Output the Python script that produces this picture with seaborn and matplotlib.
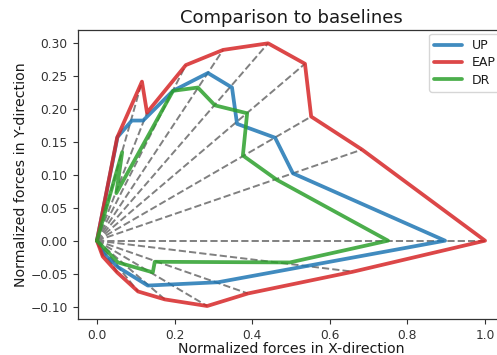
import numpy as np
import pandas as pd
import matplotlib
matplotlib.use("Agg")
import matplotlib.pyplot as plt
import seaborn as sns

# --- data ---
up_x = [0.0, 0.053, 0.090, 0.119, 0.196, 0.286, 0.348, 0.361, 0.459, 0.505, 0.897, 0.312, 0.131, 0.054, 0.018, 0.0]
up_y = [0.0, 0.157, 0.182, 0.182, 0.227, 0.254, 0.232, 0.177, 0.156, 0.102, 0.0, -0.063, -0.068, -0.040, -0.020, 0.0]

eap_x = [0.0, 0.052, 0.116, 0.129, 0.229, 0.325, 0.441, 0.536, 0.552, 0.683, 1.0, 0.66, 0.389, 0.284, 0.175, 0.106, 0.052, 0.015, 0.0]
eap_y = [0.0, 0.156, 0.241, 0.194, 0.266, 0.289, 0.299, 0.268, 0.188, 0.138, 0.0, -0.047, -0.080, -0.099, -0.089, -0.077, -0.048, -0.024, 0.0]

dr_x = [0.0, 0.065, 0.050, 0.196, 0.260, 0.304, 0.387, 0.376, 0.464, 0.75, 0.497, 0.149, 0.144, 0.054, 0.0]
dr_y = [0.0, 0.134, 0.072, 0.227, 0.232, 0.205, 0.193, 0.129, 0.092, 0.0, -0.033, -0.032, -0.048, -0.033, 0.0]

series_names = ["UP", "EAP", "DR"]
title = "Comparison to baselines"
xlabel = "Normalized forces in X-direction"
ylabel = "Normalized forces in Y-direction"

sns.set_style("ticks")
plt.rcParams['font.family'] = ['DejaVu Sans']
plt.rcParams.update({
    "axes.edgecolor": "0.2",
    "axes.linewidth": 0.9,
    "xtick.major.size": 3.5,
    "ytick.major.size": 3.5,
    "xtick.major.width": 0.8,
    "ytick.major.width": 0.8,
    "xtick.major.pad": 3.5,
    "ytick.major.pad": 3.5,
    "text.color": "0.1",
    "axes.labelcolor": "0.1",
    "xtick.color": "0.2",
    "ytick.color": "0.2",
})

fig, ax = plt.subplots(figsize=(4.97, 3.55), dpi=100)
fig.subplots_adjust(left=0.156, right=1.015, top=0.915, bottom=0.101)

# dashed rays from origin to every EAP vertex
rays = []
for i, (x, y) in enumerate(zip(eap_x[1:-1], eap_y[1:-1])):
    rays.append({"ray": i, "order": 0, "x": 0.0, "y": 0.0})
    rays.append({"ray": i, "order": 1, "x": x, "y": y})
rays_df = pd.DataFrame(rays)
sns.lineplot(data=rays_df, x="x", y="y", units="ray", estimator=None, sort=False,
             color="0.5", linestyle="--", linewidth=1.4, ax=ax, legend=False)

colors = {"UP": "#1f77b4", "EAP": "#d62728", "DR": "#2ca02c"}
data = {"UP": (up_x, up_y), "EAP": (eap_x, eap_y), "DR": (dr_x, dr_y)}
for name in series_names:
    xs, ys = data[name]
    df = pd.DataFrame({"x": xs, "y": ys})
    sns.lineplot(data=df, x="x", y="y", sort=False, estimator=None, color=colors[name],
                 linewidth=2.7, alpha=0.85, label=name, ax=ax)

ax.set_title(title, fontsize=13, pad=5)
ax.set_xlabel(xlabel, fontsize=10.2, labelpad=0)
ax.set_ylabel(ylabel, fontsize=10.2, labelpad=2)
ax.set_yticks([-0.10, -0.05, 0.0, 0.05, 0.10, 0.15, 0.20, 0.25, 0.30])
ax.set_xticks([0.0, 0.2, 0.4, 0.6, 0.8, 1.0])
ax.tick_params(labelsize=8.8)
ax.legend(loc="upper right", fontsize=9, framealpha=0.8, handlelength=2.2,
          borderaxespad=0.3, labelspacing=0.35)

fig.savefig("out.png", dpi=100)
